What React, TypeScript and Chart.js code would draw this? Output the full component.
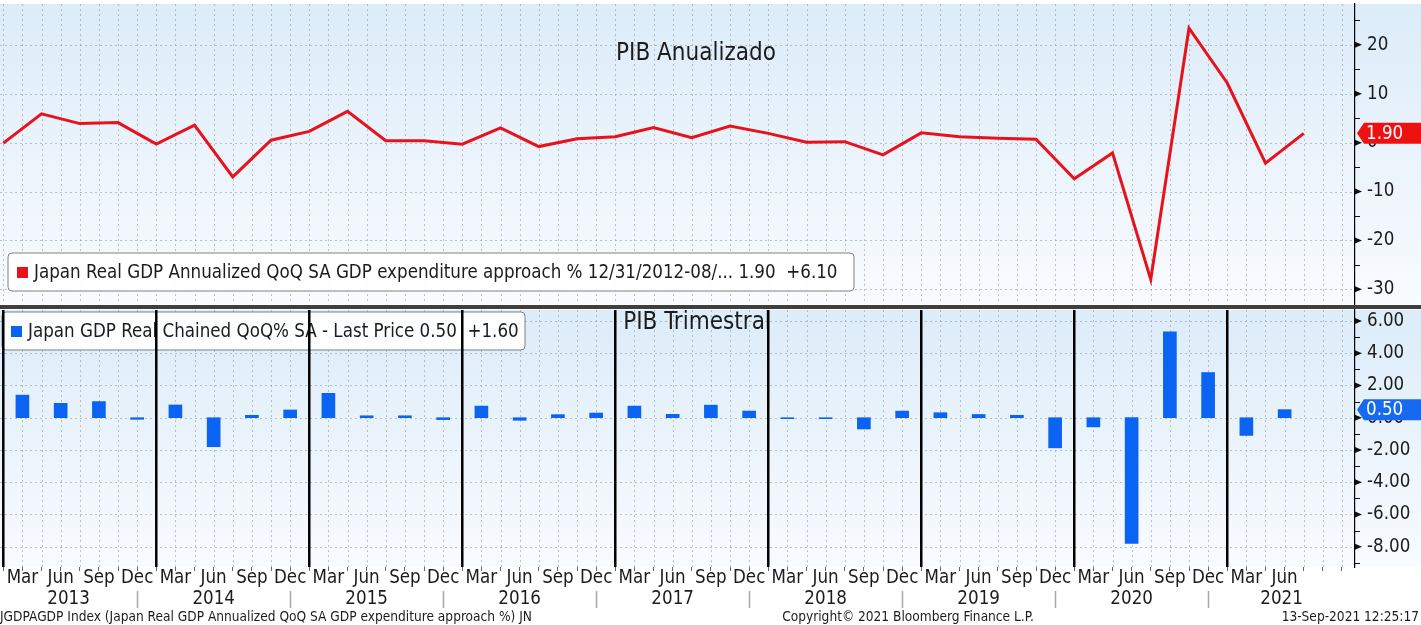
import React, { useEffect, useRef } from 'react';
import { Chart, registerables } from 'chart.js';

Chart.register(...registerables);

// ---------- DATA ----------
// Japan Real GDP annualized QoQ % (Dec 2012 .. Jun 2021, quarter ends)
const annualizedGDP = [
  -0.1, 5.9, 3.9, 4.1, -0.3, 3.6, -7.0, 0.5, 2.3, 6.4, 0.4, 0.4, -0.3, 3.0, -0.8,
  0.8, 1.2, 3.1, 1.0, 3.4, 1.9, 0.1, 0.2, -2.5, 2.0, 1.2, 0.9, 0.7, -7.4, -2.1,
  -28.0, 23.4, 12.2, -4.2, 1.9,
];
// Japan GDP real chained QoQ % (Q1 2013 .. Q2 2021)
const quarterlyGDP = [
  1.4, 0.89, 1.0, -0.1, 0.79, -1.8, 0.15, 0.48, 1.51, 0.12, 0.12, -0.12, 0.72, -0.16,
  0.19, 0.29, 0.72, 0.21, 0.78, 0.41, -0.06, -0.06, -0.7, 0.41, 0.31, 0.2, 0.15,
  -1.87, -0.57, -7.8, 5.33, 2.8, -1.1, 0.5,
];
const quarterMonths = ['Mar', 'Jun', 'Sep', 'Dec'];
const yearLabels = ['2013', '2014', '2015', '2016', '2017', '2018', '2019', '2020', '2021'];
const topTitle = 'PIB Anualizado';
const bottomTitle = 'PIB Trimestral';
const topSeriesName = 'Japan Real GDP Annualized QoQ SA GDP expenditure approach % 12/31/2012-08/...';
const bottomSeriesName = 'Japan GDP Real Chained QoQ% SA - Last Price';
const footerLeft = 'JGDPAGDP Index (Japan Real GDP Annualized QoQ SA GDP expenditure approach %) JN';
const footerCenter = 'Copyright\u00A9 2021 Bloomberg Finance L.P.';
const footerRight = '13-Sep-2021 12:25:17';

// ---------- STYLE / LAYOUT ----------
const FONT = '"DejaVu Sans Condensed", "Liberation Sans Narrow", "DejaVu Sans", sans-serif';
const W = 1421;
const X_MIN = -0.086;
const X_MAX = 35.34;
const RED = '#e8121c';
const BLUE = '#0a63f3';
const TEXT = '#1c1c1c';
const AXIS_W = 66;
const FS = 18.6;

const signed = (v: number) => (v >= 0 ? '+' : '') + v.toFixed(2);

function paintBackground(chart: any) {
  const { ctx, chartArea: a } = chart;
  ctx.save();
  const g = ctx.createLinearGradient(0, a.top, 0, a.bottom);
  g.addColorStop(0, '#dcecf9');
  g.addColorStop(1, '#f9fbfe');
  ctx.fillStyle = g;
  ctx.fillRect(0, a.top, chart.width, a.bottom - a.top);
  ctx.restore();
}

function paintGrid(chart: any) {
  const { ctx, chartArea: a, scales } = chart;
  const x = scales.x;
  const y = scales.y;
  ctx.save();
  ctx.strokeStyle = 'rgba(140,150,160,0.55)';
  ctx.lineWidth = 1;
  ctx.setLineDash([2, 3]);
  for (let v = 0; v <= X_MAX; v += 0.5) {
    const px = Math.round(x.getPixelForValue(v)) + 0.5;
    ctx.beginPath();
    ctx.moveTo(px, a.top);
    ctx.lineTo(px, a.bottom);
    ctx.stroke();
  }
  for (const t of y.ticks) {
    const py = Math.round(y.getPixelForValue(t.value)) + 0.5;
    ctx.beginPath();
    ctx.moveTo(a.left, py);
    ctx.lineTo(a.right, py);
    ctx.stroke();
  }
  ctx.restore();
}

function paintAxisMarks(chart: any, minor: number, major: number) {
  const { ctx, chartArea: a, scales } = chart;
  const y = scales.y;
  const x0 = a.right;
  ctx.save();
  ctx.fillStyle = '#111';
  ctx.strokeStyle = '#111';
  ctx.lineWidth = 1;
  for (const t of y.ticks) {
    const py = y.getPixelForValue(t.value);
    ctx.beginPath();
    ctx.moveTo(x0, py - 3);
    ctx.lineTo(x0 + 7, py);
    ctx.lineTo(x0, py + 3);
    ctx.closePath();
    ctx.fill();
  }
  const start = Math.ceil(y.min / minor) * minor;
  for (let v = start; v <= y.max + 1e-9; v += minor) {
    if (Math.abs(v / major - Math.round(v / major)) < 1e-6) continue;
    const py = Math.round(y.getPixelForValue(v)) + 0.5;
    ctx.beginPath();
    ctx.moveTo(x0, py);
    ctx.lineTo(x0 + 5, py);
    ctx.stroke();
  }
  ctx.restore();
}

function paintLegendBox(ctx: CanvasRenderingContext2D, x: number, y: number, w: number, h: number, color: string, text: string) {
  const r = 4;
  ctx.save();
  ctx.beginPath();
  ctx.moveTo(x + r, y);
  ctx.lineTo(x + w - r, y);
  ctx.arcTo(x + w, y, x + w, y + r, r);
  ctx.lineTo(x + w, y + h - r);
  ctx.arcTo(x + w, y + h, x + w - r, y + h, r);
  ctx.lineTo(x + r, y + h);
  ctx.arcTo(x, y + h, x, y + h - r, r);
  ctx.lineTo(x, y + r);
  ctx.arcTo(x, y, x + r, y, r);
  ctx.closePath();
  ctx.fillStyle = 'rgba(255,255,255,0.92)';
  ctx.fill();
  ctx.strokeStyle = '#808080';
  ctx.lineWidth = 1;
  ctx.stroke();
  ctx.fillStyle = color;
  ctx.fillRect(x + 9, y + h / 2 - 5, 11, 11);
  ctx.fillStyle = TEXT;
  ctx.font = `${FS}px ${FONT}`;
  ctx.textBaseline = 'middle';
  ctx.textAlign = 'left';
  ctx.fillText(text, x + 26, y + h / 2 + 1);
  ctx.restore();
}

function paintTitle(ctx: CanvasRenderingContext2D, text: string, cx: number, baseline: number) {
  ctx.save();
  ctx.font = `24px ${FONT}`;
  ctx.fillStyle = TEXT;
  ctx.textAlign = 'center';
  ctx.textBaseline = 'alphabetic';
  ctx.fillText(text, cx, baseline);
  ctx.restore();
}

function paintBadge(chart: any, value: number, color: string) {
  const { ctx, chartArea: a, scales } = chart;
  const yc = scales.y.getPixelForValue(value);
  const xl = a.right + 2;
  const h = 21;
  ctx.save();
  ctx.beginPath();
  ctx.moveTo(xl, yc);
  ctx.lineTo(xl + 7, yc - h / 2);
  ctx.lineTo(chart.width, yc - h / 2);
  ctx.lineTo(chart.width, yc + h / 2);
  ctx.lineTo(xl + 7, yc + h / 2);
  ctx.closePath();
  ctx.fillStyle = color;
  ctx.fill();
  ctx.fillStyle = '#ffffff';
  ctx.font = `${FS}px ${FONT}`;
  ctx.textAlign = 'left';
  ctx.textBaseline = 'middle';
  ctx.fillText(value.toFixed(2), xl + 9, yc + 1);
  ctx.restore();
}

const halfSteps = () => {
  const out: { value: number }[] = [];
  for (let v = 0; v <= X_MAX; v += 0.5) out.push({ value: v });
  return out;
};

const noPad = (s: any) => {
  s.paddingTop = 0;
  s.paddingBottom = 0;
  s.paddingLeft = 0;
  s.paddingRight = 0;
};

export default function App() {
  const topRef = useRef<HTMLCanvasElement>(null);
  const botRef = useRef<HTMLCanvasElement>(null);

  useEffect(() => {
    const lastA = annualizedGDP[annualizedGDP.length - 1];
    const prevA = annualizedGDP[annualizedGDP.length - 2];
    const lastQ = quarterlyGDP[quarterlyGDP.length - 1];
    const prevQ = quarterlyGDP[quarterlyGDP.length - 2];

    const topChart = new Chart(topRef.current as HTMLCanvasElement, {
      type: 'line',
      data: {
        datasets: [
          {
            label: topSeriesName,
            data: annualizedGDP.map((v, i) => ({ x: i, y: v })),
            borderColor: RED,
            backgroundColor: RED,
            borderWidth: 3,
            pointRadius: 0,
            tension: 0,
          },
        ],
      },
      options: {
        animation: false,
        responsive: false,
        devicePixelRatio: 1,
        layout: { padding: { top: 4, bottom: 1, left: 0, right: 0 }, autoPadding: false } as any,
        plugins: { legend: { display: false }, tooltip: { enabled: false }, title: { display: false } },
        scales: {
          x: {
            type: 'linear', min: X_MIN, max: X_MAX, display: false,
            afterBuildTicks: (s: any) => { s.ticks = halfSteps(); },
            afterFit: (s: any) => { noPad(s); },
          },
          y: {
            type: 'linear',
            position: 'right',
            min: -33,
            max: 28.36,
            afterBuildTicks: (s: any) => {
              const t: { value: number }[] = [];
              for (let v = Math.ceil(s.min / 10) * 10; v <= s.max; v += 10) t.push({ value: v });
              s.ticks = t;
            },
            afterFit: (s: any) => { s.width = AXIS_W; noPad(s); },
            grid: { display: false, drawTicks: false },
            border: { display: true, color: '#000', width: 1.2 },
            ticks: { padding: 12, color: TEXT, font: { family: FONT, size: FS }, callback: (v: any) => String(v) },
          },
        },
      } as any,
      plugins: [
        {
          id: 'topDecor',
          beforeDraw: (c: any) => paintBackground(c),
          beforeDatasetsDraw: (c: any) => {
            paintGrid(c);
            paintAxisMarks(c, 5, 10);
            paintTitle(c.ctx, topTitle, 696, 60);
            paintLegendBox(c.ctx, 8, 253, 846, 38, RED, `${topSeriesName} ${lastA.toFixed(2)}  ${signed(lastA - prevA)}`);
          },
          afterDraw: (c: any) => paintBadge(c, lastA, '#ee1111'),
        },
      ],
    });

    const botChart = new Chart(botRef.current as HTMLCanvasElement, {
      type: 'bar',
      data: {
        datasets: [
          {
            label: bottomSeriesName,
            data: quarterlyGDP.map((v, i) => ({ x: i + 0.5, y: v })),
            backgroundColor: BLUE,
            borderWidth: 0,
            barThickness: 13,
          },
        ],
      },
      options: {
        animation: false,
        responsive: false,
        devicePixelRatio: 1,
        layout: { padding: { top: 5, bottom: 0, left: 0, right: 0 }, autoPadding: false } as any,
        plugins: { legend: { display: false }, tooltip: { enabled: false }, title: { display: false } },
        scales: {
          x: {
            type: 'linear',
            min: X_MIN,
            max: X_MAX,
            offset: false,
            afterBuildTicks: (s: any) => { s.ticks = halfSteps(); },
            afterFit: (s: any) => { s.height = 58; noPad(s); },
            grid: { display: true, drawOnChartArea: false, drawTicks: true, tickLength: 4, tickColor: '#666', offset: false },
            border: { display: false },
            ticks: {
              autoSkip: false,
              maxRotation: 0,
              minRotation: 0,
              padding: -2,
              color: TEXT,
              font: { family: FONT, size: FS, lineHeight: 1 },
              callback: (v: any) => {
                const k = Number(v) - 0.5;
                if (Number.isInteger(k) && k >= 0 && k < quarterlyGDP.length) return quarterMonths[k % 4];
                return '';
              },
            },
          },
          y: {
            type: 'linear',
            position: 'right',
            min: -9.256,
            max: 6.677,
            afterBuildTicks: (s: any) => {
              const t: { value: number }[] = [];
              for (let v = Math.ceil(s.min / 2) * 2; v <= s.max; v += 2) t.push({ value: v });
              s.ticks = t;
            },
            afterFit: (s: any) => { s.width = AXIS_W; noPad(s); },
            grid: { display: false, drawTicks: false },
            border: { display: true, color: '#000', width: 1.2 },
            ticks: { padding: 12, color: TEXT, font: { family: FONT, size: FS }, callback: (v: any) => Number(v).toFixed(2) },
          },
        },
      } as any,
      plugins: [
        {
          id: 'botDecor',
          beforeDraw: (c: any) => {
            const ctx = c.ctx;
            ctx.save();
            ctx.fillStyle = '#3f3f3f';
            ctx.fillRect(0, 0, c.width, 4);
            ctx.restore();
            paintBackground(c);
          },
          beforeDatasetsDraw: (c: any) => {
            const { ctx, chartArea: a, scales } = c;
            paintGrid(c);
            paintAxisMarks(c, 1, 2);
            paintLegendBox(ctx, 2, 7, 523, 38, BLUE, `${bottomSeriesName} ${lastQ.toFixed(2)}  ${signed(lastQ - prevQ)}`);
            paintTitle(ctx, bottomTitle, 697, 24);
            // year boundary lines
            ctx.save();
            ctx.strokeStyle = '#000';
            ctx.lineWidth = 2.5;
            for (let i = 0; i < yearLabels.length; i++) {
              const px = scales.x.getPixelForValue(i * 4);
              ctx.beginPath();
              ctx.moveTo(px, a.top);
              ctx.lineTo(px, a.bottom);
              ctx.stroke();
            }
            ctx.restore();
          },
          afterDraw: (c: any) => {
            const { ctx, scales } = c;
            const x = scales.x;
            paintBadge(c, lastQ, '#1769f0');
            ctx.save();
            ctx.font = `${FS}px ${FONT}`;
            ctx.fillStyle = TEXT;
            ctx.textAlign = 'center';
            ctx.textBaseline = 'middle';
            yearLabels.forEach((yr, i) => {
              const s = Math.max(X_MIN, i * 4 - 0.5);
              const e = Math.min(X_MAX, i * 4 + 3.5);
              ctx.fillText(yr, x.getPixelForValue((s + e) / 2), 294);
              if (i < yearLabels.length - 1) {
                const px = Math.round(x.getPixelForValue(i * 4 + 3.5)) + 0.5;
                ctx.save();
                ctx.strokeStyle = '#a8a8a8';
                ctx.lineWidth = 1.5;
                ctx.beginPath();
                ctx.moveTo(px, 286);
                ctx.lineTo(px, 303);
                ctx.stroke();
                ctx.restore();
              }
            });
            ctx.font = `13.6px ${FONT}`;
            ctx.textAlign = 'left';
            ctx.fillText(footerLeft, 0, 312);
            ctx.textAlign = 'center';
            ctx.fillText(footerCenter, 908, 312);
            ctx.textAlign = 'right';
            ctx.fillText(footerRight, 1419, 312);
            ctx.restore();
          },
        },
      ],
    });

    return () => {
      topChart.destroy();
      botChart.destroy();
    };
  }, []);

  return (
    <div style={{ position: 'fixed', left: 0, top: 0, width: W, height: 625, background: '#ffffff', overflow: 'hidden' }}>
      <canvas ref={topRef} width={W} height={305} style={{ position: 'absolute', left: 0, top: 0, width: W, height: 305 }} />
      <canvas ref={botRef} width={W} height={320} style={{ position: 'absolute', left: 0, top: 305, width: W, height: 320 }} />
    </div>
  );
}
